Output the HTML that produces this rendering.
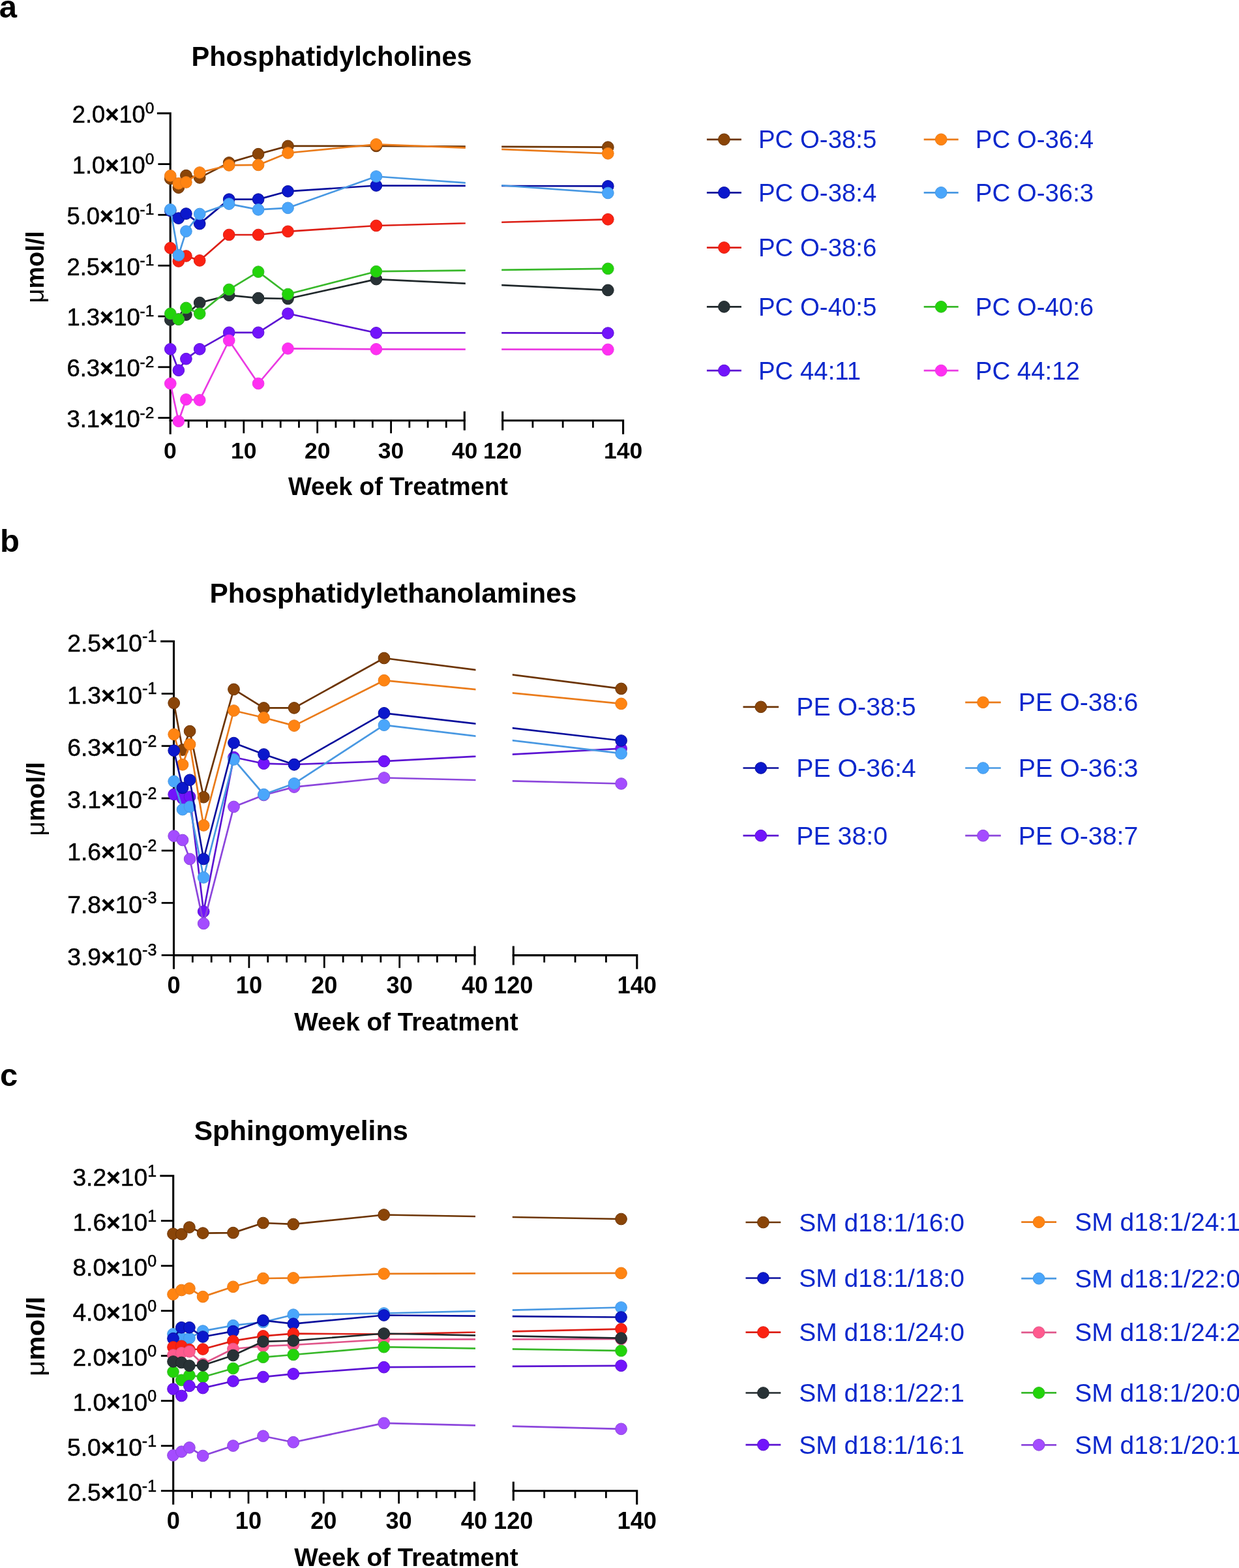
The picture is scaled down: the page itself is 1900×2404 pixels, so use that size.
<!DOCTYPE html>
<html><head><meta charset="utf-8"><title>Lipid species over weeks of treatment</title>
<style>
html,body{margin:0;padding:0;background:#fff;}
body{width:1900px;height:2404px;overflow:hidden;}
svg{display:block;}
text{font-family:'Liberation Sans', Arial, Helvetica, sans-serif;}
.let{font-size:49px;font-weight:bold;}
.ttl{font-size:42px;font-weight:bold;}
.yl{font-size:35.5px;text-anchor:end;stroke:#000;stroke-width:0.5px;}
.sup{font-size:26px;}
.xl{font-size:35px;font-weight:bold;text-anchor:middle;}
.xt{font-size:38px;font-weight:bold;}
.yt{font-size:38px;font-weight:bold;}
.mu{font-weight:normal;}
.lg{font-size:38px;fill:#0c28cc;}
.ax{stroke-width:3.1;stroke-linecap:square;}
.tk{stroke-width:2.8;stroke-linecap:butt;}
</style></head>
<body>
<svg width="1900" height="2404" viewBox="0 0 1900 2404">
<rect width="1900" height="2404" fill="#fff"/>
<text x="-1.3" y="26.6" class="let">a</text>
<text x="293.4" y="101.2" class="ttl" textLength="430.4" lengthAdjust="spacingAndGlyphs">Phosphatidylcholines</text>
<g stroke="#000" fill="none"><path d="M242.4 173.8H261.2V664.3" class="ax" fill="none"/><path d="M242.4 251.6H261.2" class="tk"/><path d="M242.4 329.4H261.2" class="tk"/><path d="M242.4 407.2H261.2" class="tk"/><path d="M242.4 485H261.2" class="tk"/><path d="M242.4 562.8H261.2" class="tk"/><path d="M242.4 640.6H261.2" class="tk"/><path d="M261.2 644.8H712.3" class="ax"/><path d="M712.3 632.2V658.2" class="ax"/><path d="M289.12 644.8V655.8" class="tk"/><path d="M317.35 644.8V655.8" class="tk"/><path d="M345.57 644.8V655.8" class="tk"/><path d="M373.8 644.8V664.3" class="tk"/><path d="M402.02 644.8V655.8" class="tk"/><path d="M430.25 644.8V655.8" class="tk"/><path d="M458.47 644.8V655.8" class="tk"/><path d="M486.7 644.8V664.3" class="tk"/><path d="M514.92 644.8V655.8" class="tk"/><path d="M543.15 644.8V655.8" class="tk"/><path d="M571.38 644.8V655.8" class="tk"/><path d="M599.6 644.8V664.3" class="tk"/><path d="M627.82 644.8V655.8" class="tk"/><path d="M656.05 644.8V655.8" class="tk"/><path d="M684.27 644.8V655.8" class="tk"/><path d="M770.7 632.2V658.2" class="ax"/><path d="M770.7 644.8H955.6V664.3" class="ax" fill="none"/><path d="M816.93 644.8V655.8" class="tk"/><path d="M863.15 644.8V655.8" class="tk"/><path d="M909.38 644.8V655.8" class="tk"/></g>
<text x="236.4" y="188.2" class="yl" style="font-size:36.3px">2.0<tspan font-weight="bold">×</tspan>10<tspan dy="-14.5" style="font-size:24.5px">0</tspan></text>
<text x="236.4" y="266" class="yl" style="font-size:36.3px">1.0<tspan font-weight="bold">×</tspan>10<tspan dy="-14.5" style="font-size:24.5px">0</tspan></text>
<text x="236.4" y="343.8" class="yl" style="font-size:36.3px">5.0<tspan font-weight="bold">×</tspan>10<tspan dy="-14.5" style="font-size:24.5px">-1</tspan></text>
<text x="236.4" y="421.6" class="yl" style="font-size:36.3px">2.5<tspan font-weight="bold">×</tspan>10<tspan dy="-14.5" style="font-size:24.5px">-1</tspan></text>
<text x="236.4" y="499.4" class="yl" style="font-size:36.3px">1.3<tspan font-weight="bold">×</tspan>10<tspan dy="-14.5" style="font-size:24.5px">-1</tspan></text>
<text x="236.4" y="577.2" class="yl" style="font-size:36.3px">6.3<tspan font-weight="bold">×</tspan>10<tspan dy="-14.5" style="font-size:24.5px">-2</tspan></text>
<text x="236.4" y="655" class="yl" style="font-size:36.3px">3.1<tspan font-weight="bold">×</tspan>10<tspan dy="-14.5" style="font-size:24.5px">-2</tspan></text>
<text x="260.9" y="702.8" class="xl" style="font-size:35.5px">0</text>
<text x="373.8" y="702.8" class="xl" style="font-size:35.5px">10</text>
<text x="486.7" y="702.8" class="xl" style="font-size:35.5px">20</text>
<text x="599.6" y="702.8" class="xl" style="font-size:35.5px">30</text>
<text x="712.5" y="702.8" class="xl" style="font-size:35.5px">40</text>
<text x="770.7" y="702.8" class="xl" style="font-size:35.5px">120</text>
<text x="955.6" y="702.8" class="xl" style="font-size:35.5px">140</text>
<text x="441.9" y="758.6" class="xt" textLength="336.9" lengthAdjust="spacingAndGlyphs">Week of Treatment</text>
<text transform="translate(67.3 409.3) rotate(-90)" class="yt" text-anchor="middle" textLength="110.2" lengthAdjust="spacingAndGlyphs"><tspan class="mu">μ</tspan>mol/l</text>
<clipPath id="clipa"><rect x="0" y="113.8" width="713.8" height="591"/><rect x="769.2" y="113.8" width="1129.3" height="591"/></clipPath>
<polyline points="261.3,273.9 273.8,287.6 285.4,269.1 306.2,272.4 351.2,249.4 396.1,236.2 441.5,223.9 576.9,223.9 932.3,225.7" fill="none" stroke="#6c3404" stroke-width="2.7" stroke-linejoin="round" clip-path="url(#clipa)"/>
<g fill="#8a4508" stroke="#6c3404" stroke-width="1"><circle cx="261.3" cy="273.9" r="8.85"/><circle cx="273.8" cy="287.6" r="8.85"/><circle cx="285.4" cy="269.1" r="8.85"/><circle cx="306.2" cy="272.4" r="8.85"/><circle cx="351.2" cy="249.4" r="8.85"/><circle cx="396.1" cy="236.2" r="8.85"/><circle cx="441.5" cy="223.9" r="8.85"/><circle cx="576.9" cy="223.9" r="8.85"/><circle cx="932.3" cy="225.7" r="8.85"/></g>
<polyline points="261.3,269.4 273.8,281.3 285.4,279.4 306.2,264.5 351.2,253.4 396.1,252.9 441.5,234.5 576.9,221.3 932.3,235.3" fill="none" stroke="#ea7b1a" stroke-width="2.7" stroke-linejoin="round" clip-path="url(#clipa)"/>
<g fill="#ff8412" stroke="#ea7b1a" stroke-width="1"><circle cx="261.3" cy="269.4" r="8.85"/><circle cx="273.8" cy="281.3" r="8.85"/><circle cx="285.4" cy="279.4" r="8.85"/><circle cx="306.2" cy="264.5" r="8.85"/><circle cx="351.2" cy="253.4" r="8.85"/><circle cx="396.1" cy="252.9" r="8.85"/><circle cx="441.5" cy="234.5" r="8.85"/><circle cx="576.9" cy="221.3" r="8.85"/><circle cx="932.3" cy="235.3" r="8.85"/></g>
<polyline points="261.3,323 273.8,334.6 285.4,327.6 306.2,343.1 351.2,305.6 396.1,305.6 441.5,293.3 576.9,284.5 932.3,285.4" fill="none" stroke="#0a0f9c" stroke-width="2.7" stroke-linejoin="round" clip-path="url(#clipa)"/>
<g fill="#0b18cc" stroke="#0a0f9c" stroke-width="1"><circle cx="261.3" cy="323" r="8.85"/><circle cx="273.8" cy="334.6" r="8.85"/><circle cx="285.4" cy="327.6" r="8.85"/><circle cx="306.2" cy="343.1" r="8.85"/><circle cx="351.2" cy="305.6" r="8.85"/><circle cx="396.1" cy="305.6" r="8.85"/><circle cx="441.5" cy="293.3" r="8.85"/><circle cx="576.9" cy="284.5" r="8.85"/><circle cx="932.3" cy="285.4" r="8.85"/></g>
<polyline points="261.3,380.2 273.8,400.5 285.4,392.5 306.2,399.4 351.2,360 396.1,360 441.5,354.8 576.9,346 932.3,336.3" fill="none" stroke="#dc1f16" stroke-width="2.7" stroke-linejoin="round" clip-path="url(#clipa)"/>
<g fill="#fb2212" stroke="#dc1f16" stroke-width="1"><circle cx="261.3" cy="380.2" r="8.85"/><circle cx="273.8" cy="400.5" r="8.85"/><circle cx="285.4" cy="392.5" r="8.85"/><circle cx="306.2" cy="399.4" r="8.85"/><circle cx="351.2" cy="360" r="8.85"/><circle cx="396.1" cy="360" r="8.85"/><circle cx="441.5" cy="354.8" r="8.85"/><circle cx="576.9" cy="346" r="8.85"/><circle cx="932.3" cy="336.3" r="8.85"/></g>
<polyline points="261.3,321.3 273.8,391.3 285.4,354.6 306.2,328 351.2,312.6 396.1,321.4 441.5,318.8 576.9,270.5 932.3,295.9" fill="none" stroke="#4898e2" stroke-width="2.7" stroke-linejoin="round" clip-path="url(#clipa)"/>
<g fill="#4aa6fb" stroke="#4898e2" stroke-width="1"><circle cx="261.3" cy="321.3" r="8.85"/><circle cx="273.8" cy="391.3" r="8.85"/><circle cx="285.4" cy="354.6" r="8.85"/><circle cx="306.2" cy="328" r="8.85"/><circle cx="351.2" cy="312.6" r="8.85"/><circle cx="396.1" cy="321.4" r="8.85"/><circle cx="441.5" cy="318.8" r="8.85"/><circle cx="576.9" cy="270.5" r="8.85"/><circle cx="932.3" cy="295.9" r="8.85"/></g>
<polyline points="261.3,490.5 273.8,489.5 285.4,482.6 306.2,464.1 351.2,452.7 396.1,457.1 441.5,458 576.9,428.1 932.3,444.9" fill="none" stroke="#20282b" stroke-width="2.7" stroke-linejoin="round" clip-path="url(#clipa)"/>
<g fill="#283236" stroke="#20282b" stroke-width="1"><circle cx="261.3" cy="490.5" r="8.85"/><circle cx="273.8" cy="489.5" r="8.85"/><circle cx="285.4" cy="482.6" r="8.85"/><circle cx="306.2" cy="464.1" r="8.85"/><circle cx="351.2" cy="452.7" r="8.85"/><circle cx="396.1" cy="457.1" r="8.85"/><circle cx="441.5" cy="458" r="8.85"/><circle cx="576.9" cy="428.1" r="8.85"/><circle cx="932.3" cy="444.9" r="8.85"/></g>
<polyline points="261.3,480.8 273.8,489.6 285.4,472 306.2,480.8 351.2,443.9 396.1,416.7 441.5,451 576.9,416.2 932.3,411.9" fill="none" stroke="#38b82a" stroke-width="2.7" stroke-linejoin="round" clip-path="url(#clipa)"/>
<g fill="#22d40a" stroke="#38b82a" stroke-width="1"><circle cx="261.3" cy="480.8" r="8.85"/><circle cx="273.8" cy="489.6" r="8.85"/><circle cx="285.4" cy="472" r="8.85"/><circle cx="306.2" cy="480.8" r="8.85"/><circle cx="351.2" cy="443.9" r="8.85"/><circle cx="396.1" cy="416.7" r="8.85"/><circle cx="441.5" cy="451" r="8.85"/><circle cx="576.9" cy="416.2" r="8.85"/><circle cx="932.3" cy="411.9" r="8.85"/></g>
<polyline points="261.3,535.3 273.8,567.7 285.4,550.2 306.2,535.3 351.2,509.8 396.1,509.8 441.5,480.8 576.9,510.3 932.3,510.6" fill="none" stroke="#5c14d2" stroke-width="2.7" stroke-linejoin="round" clip-path="url(#clipa)"/>
<g fill="#7214fb" stroke="#5c14d2" stroke-width="1"><circle cx="261.3" cy="535.3" r="8.85"/><circle cx="273.8" cy="567.7" r="8.85"/><circle cx="285.4" cy="550.2" r="8.85"/><circle cx="306.2" cy="535.3" r="8.85"/><circle cx="351.2" cy="509.8" r="8.85"/><circle cx="396.1" cy="509.8" r="8.85"/><circle cx="441.5" cy="480.8" r="8.85"/><circle cx="576.9" cy="510.3" r="8.85"/><circle cx="932.3" cy="510.6" r="8.85"/></g>
<polyline points="261.3,588 273.8,645.8 285.4,612.5 306.2,613.4 351.2,522 396.1,588 441.5,534.4 576.9,535.3 932.3,535.9" fill="none" stroke="#ea3ae2" stroke-width="2.7" stroke-linejoin="round" clip-path="url(#clipa)"/>
<g fill="#ff30f2" stroke="#ea3ae2" stroke-width="1"><circle cx="261.3" cy="588" r="8.85"/><circle cx="273.8" cy="645.8" r="8.85"/><circle cx="285.4" cy="612.5" r="8.85"/><circle cx="306.2" cy="613.4" r="8.85"/><circle cx="351.2" cy="522" r="8.85"/><circle cx="396.1" cy="588" r="8.85"/><circle cx="441.5" cy="534.4" r="8.85"/><circle cx="576.9" cy="535.3" r="8.85"/><circle cx="932.3" cy="535.9" r="8.85"/></g>
<path d="M1083.9 213.8H1136.9" stroke="#6c3404" stroke-width="2.7"/>
<circle cx="1110.4" cy="213.8" r="8.85" fill="#8a4508" stroke="#6c3404" stroke-width="1"/>
<text x="1163" y="227.4" class="lg" style="font-size:38.4px">PC O-38:5</text>
<path d="M1416.7 213.8H1469.7" stroke="#ea7b1a" stroke-width="2.7"/>
<circle cx="1443.2" cy="213.8" r="8.85" fill="#ff8412" stroke="#ea7b1a" stroke-width="1"/>
<text x="1495.8" y="227.4" class="lg" style="font-size:38.4px">PC O-36:4</text>
<path d="M1083.9 295.3H1136.9" stroke="#0a0f9c" stroke-width="2.7"/>
<circle cx="1110.4" cy="295.3" r="8.85" fill="#0b18cc" stroke="#0a0f9c" stroke-width="1"/>
<text x="1163" y="308.9" class="lg" style="font-size:38.4px">PC O-38:4</text>
<path d="M1416.7 295.3H1469.7" stroke="#4898e2" stroke-width="2.7"/>
<circle cx="1443.2" cy="295.3" r="8.85" fill="#4aa6fb" stroke="#4898e2" stroke-width="1"/>
<text x="1495.8" y="308.9" class="lg" style="font-size:38.4px">PC O-36:3</text>
<path d="M1083.9 379.6H1136.9" stroke="#dc1f16" stroke-width="2.7"/>
<circle cx="1110.4" cy="379.6" r="8.85" fill="#fb2212" stroke="#dc1f16" stroke-width="1"/>
<text x="1163" y="393.2" class="lg" style="font-size:38.4px">PC O-38:6</text>
<path d="M1083.9 470.3H1136.9" stroke="#20282b" stroke-width="2.7"/>
<circle cx="1110.4" cy="470.3" r="8.85" fill="#283236" stroke="#20282b" stroke-width="1"/>
<text x="1163" y="483.9" class="lg" style="font-size:38.4px">PC O-40:5</text>
<path d="M1416.7 470.3H1469.7" stroke="#38b82a" stroke-width="2.7"/>
<circle cx="1443.2" cy="470.3" r="8.85" fill="#22d40a" stroke="#38b82a" stroke-width="1"/>
<text x="1495.8" y="483.9" class="lg" style="font-size:38.4px">PC O-40:6</text>
<path d="M1083.9 568.1H1136.9" stroke="#5c14d2" stroke-width="2.7"/>
<circle cx="1110.4" cy="568.1" r="8.85" fill="#7214fb" stroke="#5c14d2" stroke-width="1"/>
<text x="1163" y="581.7" class="lg" style="font-size:38.4px">PC 44:11</text>
<path d="M1416.7 568.1H1469.7" stroke="#ea3ae2" stroke-width="2.7"/>
<circle cx="1443.2" cy="568.1" r="8.85" fill="#ff30f2" stroke="#ea3ae2" stroke-width="1"/>
<text x="1495.8" y="581.7" class="lg" style="font-size:38.4px">PC 44:12</text>
<text x="0" y="845.5" class="let">b</text>
<text x="321.4" y="924.1" class="ttl" textLength="563" lengthAdjust="spacingAndGlyphs">Phosphatidylethanolamines</text>
<g stroke="#000" fill="none"><path d="M247.7 983.3H266.5V1484.1" class="ax" fill="none"/><path d="M247.7 1063.5H266.5" class="tk"/><path d="M247.7 1143.7H266.5" class="tk"/><path d="M247.7 1223.9H266.5" class="tk"/><path d="M247.7 1304.1H266.5" class="tk"/><path d="M247.7 1384.3H266.5" class="tk"/><path d="M247.7 1464.5H266.5" class="tk"/><path d="M266.5 1464.6H728" class="ax"/><path d="M728 1452V1478" class="ax"/><path d="M295.35 1464.6V1475.6" class="tk"/><path d="M324.2 1464.6V1475.6" class="tk"/><path d="M353.05 1464.6V1475.6" class="tk"/><path d="M381.9 1464.6V1484.1" class="tk"/><path d="M410.75 1464.6V1475.6" class="tk"/><path d="M439.6 1464.6V1475.6" class="tk"/><path d="M468.45 1464.6V1475.6" class="tk"/><path d="M497.3 1464.6V1484.1" class="tk"/><path d="M526.15 1464.6V1475.6" class="tk"/><path d="M555 1464.6V1475.6" class="tk"/><path d="M583.85 1464.6V1475.6" class="tk"/><path d="M612.7 1464.6V1484.1" class="tk"/><path d="M641.55 1464.6V1475.6" class="tk"/><path d="M670.4 1464.6V1475.6" class="tk"/><path d="M699.25 1464.6V1475.6" class="tk"/><path d="M787.3 1452V1478" class="ax"/><path d="M787.3 1464.6H976.8V1484.1" class="ax" fill="none"/><path d="M834.67 1464.6V1475.6" class="tk"/><path d="M882.05 1464.6V1475.6" class="tk"/><path d="M929.42 1464.6V1475.6" class="tk"/></g>
<text x="240.3" y="998.6" class="yl" style="font-size:37.2px">2.5<tspan font-weight="bold">×</tspan>10<tspan dy="-14.5" style="font-size:25px">-1</tspan></text>
<text x="240.3" y="1078.8" class="yl" style="font-size:37.2px">1.3<tspan font-weight="bold">×</tspan>10<tspan dy="-14.5" style="font-size:25px">-1</tspan></text>
<text x="240.3" y="1159" class="yl" style="font-size:37.2px">6.3<tspan font-weight="bold">×</tspan>10<tspan dy="-14.5" style="font-size:25px">-2</tspan></text>
<text x="240.3" y="1239.2" class="yl" style="font-size:37.2px">3.1<tspan font-weight="bold">×</tspan>10<tspan dy="-14.5" style="font-size:25px">-2</tspan></text>
<text x="240.3" y="1319.4" class="yl" style="font-size:37.2px">1.6<tspan font-weight="bold">×</tspan>10<tspan dy="-14.5" style="font-size:25px">-2</tspan></text>
<text x="240.3" y="1399.6" class="yl" style="font-size:37.2px">7.8<tspan font-weight="bold">×</tspan>10<tspan dy="-14.5" style="font-size:25px">-3</tspan></text>
<text x="240.3" y="1479.8" class="yl" style="font-size:37.2px">3.9<tspan font-weight="bold">×</tspan>10<tspan dy="-14.5" style="font-size:25px">-3</tspan></text>
<text x="266.5" y="1523.2" class="xl" style="font-size:36.2px">0</text>
<text x="381.9" y="1523.2" class="xl" style="font-size:36.2px">10</text>
<text x="497.3" y="1523.2" class="xl" style="font-size:36.2px">20</text>
<text x="612.7" y="1523.2" class="xl" style="font-size:36.2px">30</text>
<text x="728.1" y="1523.2" class="xl" style="font-size:36.2px">40</text>
<text x="787.3" y="1523.2" class="xl" style="font-size:36.2px">120</text>
<text x="976.8" y="1523.2" class="xl" style="font-size:36.2px">140</text>
<text x="451.3" y="1579.6" class="xt" textLength="343.3" lengthAdjust="spacingAndGlyphs">Week of Treatment</text>
<text transform="translate(67.8 1224.9) rotate(-90)" class="yt" text-anchor="middle" textLength="113.6" lengthAdjust="spacingAndGlyphs"><tspan class="mu">μ</tspan>mol/l</text>
<clipPath id="clipb"><rect x="0" y="923.3" width="729.5" height="601.3"/><rect x="785.8" y="923.3" width="1112.7" height="601.3"/></clipPath>
<polyline points="266.7,1077.9 280,1149.6 291.1,1121.1 312.2,1222.2 358.5,1056.9 404.5,1085.4 451.1,1085.4 589,1009 952.6,1055.9" fill="none" stroke="#6c3404" stroke-width="2.7" stroke-linejoin="round" clip-path="url(#clipb)"/>
<g fill="#8a4508" stroke="#6c3404" stroke-width="1"><circle cx="266.7" cy="1077.9" r="8.85"/><circle cx="280" cy="1149.6" r="8.85"/><circle cx="291.1" cy="1121.1" r="8.85"/><circle cx="312.2" cy="1222.2" r="8.85"/><circle cx="358.5" cy="1056.9" r="8.85"/><circle cx="404.5" cy="1085.4" r="8.85"/><circle cx="451.1" cy="1085.4" r="8.85"/><circle cx="589" cy="1009" r="8.85"/><circle cx="952.6" cy="1055.9" r="8.85"/></g>
<polyline points="266.7,1125.9 280,1172.3 291.1,1141.2 312.2,1265.4 358.5,1089.5 404.5,1100.3 451.1,1112.6 589,1043.2 952.6,1078.9" fill="none" stroke="#ea7b1a" stroke-width="2.7" stroke-linejoin="round" clip-path="url(#clipb)"/>
<g fill="#ff8412" stroke="#ea7b1a" stroke-width="1"><circle cx="266.7" cy="1125.9" r="8.85"/><circle cx="280" cy="1172.3" r="8.85"/><circle cx="291.1" cy="1141.2" r="8.85"/><circle cx="312.2" cy="1265.4" r="8.85"/><circle cx="358.5" cy="1089.5" r="8.85"/><circle cx="404.5" cy="1100.3" r="8.85"/><circle cx="451.1" cy="1112.6" r="8.85"/><circle cx="589" cy="1043.2" r="8.85"/><circle cx="952.6" cy="1078.9" r="8.85"/></g>
<polyline points="266.7,1217.9 280,1224.3 291.1,1221.6 312.2,1397.5 358.5,1161 404.5,1170.7 451.1,1172 589,1167.1 952.6,1147.7" fill="none" stroke="#5c14d2" stroke-width="2.7" stroke-linejoin="round" clip-path="url(#clipb)"/>
<g fill="#7214fb" stroke="#5c14d2" stroke-width="1"><circle cx="266.7" cy="1217.9" r="8.85"/><circle cx="280" cy="1224.3" r="8.85"/><circle cx="291.1" cy="1221.6" r="8.85"/><circle cx="312.2" cy="1397.5" r="8.85"/><circle cx="358.5" cy="1161" r="8.85"/><circle cx="404.5" cy="1170.7" r="8.85"/><circle cx="451.1" cy="1172" r="8.85"/><circle cx="589" cy="1167.1" r="8.85"/><circle cx="952.6" cy="1147.7" r="8.85"/></g>
<polyline points="266.7,1281.7 280,1288 291.1,1317 312.2,1415.9 358.5,1236.9 404.5,1219 451.1,1206.6 589,1192.5 952.6,1201.5" fill="none" stroke="#8c46dc" stroke-width="2.7" stroke-linejoin="round" clip-path="url(#clipb)"/>
<g fill="#a44cff" stroke="#8c46dc" stroke-width="1"><circle cx="266.7" cy="1281.7" r="8.85"/><circle cx="280" cy="1288" r="8.85"/><circle cx="291.1" cy="1317" r="8.85"/><circle cx="312.2" cy="1415.9" r="8.85"/><circle cx="358.5" cy="1236.9" r="8.85"/><circle cx="404.5" cy="1219" r="8.85"/><circle cx="451.1" cy="1206.6" r="8.85"/><circle cx="589" cy="1192.5" r="8.85"/><circle cx="952.6" cy="1201.5" r="8.85"/></g>
<polyline points="266.7,1197.9 280,1241.1 291.1,1236.9 312.2,1345.3 358.5,1164.4 404.5,1218 451.1,1201.3 589,1111.7 952.6,1155.2" fill="none" stroke="#4898e2" stroke-width="2.7" stroke-linejoin="round" clip-path="url(#clipb)"/>
<g fill="#4aa6fb" stroke="#4898e2" stroke-width="1"><circle cx="266.7" cy="1197.9" r="8.85"/><circle cx="280" cy="1241.1" r="8.85"/><circle cx="291.1" cy="1236.9" r="8.85"/><circle cx="312.2" cy="1345.3" r="8.85"/><circle cx="358.5" cy="1164.4" r="8.85"/><circle cx="404.5" cy="1218" r="8.85"/><circle cx="451.1" cy="1201.3" r="8.85"/><circle cx="589" cy="1111.7" r="8.85"/><circle cx="952.6" cy="1155.2" r="8.85"/></g>
<polyline points="266.7,1150.7 280,1207.9 291.1,1195.8 312.2,1317 358.5,1139.1 404.5,1156.5 451.1,1172.3 589,1093.3 952.6,1135.5" fill="none" stroke="#0a0f9c" stroke-width="2.7" stroke-linejoin="round" clip-path="url(#clipb)"/>
<g fill="#0b18cc" stroke="#0a0f9c" stroke-width="1"><circle cx="266.7" cy="1150.7" r="8.85"/><circle cx="280" cy="1207.9" r="8.85"/><circle cx="291.1" cy="1195.8" r="8.85"/><circle cx="312.2" cy="1317" r="8.85"/><circle cx="358.5" cy="1139.1" r="8.85"/><circle cx="404.5" cy="1156.5" r="8.85"/><circle cx="451.1" cy="1172.3" r="8.85"/><circle cx="589" cy="1093.3" r="8.85"/><circle cx="952.6" cy="1135.5" r="8.85"/></g>
<path d="M1139.5 1083.8H1194.1" stroke="#6c3404" stroke-width="2.7"/>
<circle cx="1166.8" cy="1083.8" r="8.85" fill="#8a4508" stroke="#6c3404" stroke-width="1"/>
<text x="1221.2" y="1097.4" class="lg" style="font-size:39.3px">PE O-38:5</text>
<path d="M1480.2 1076.8H1534.8" stroke="#ea7b1a" stroke-width="2.7"/>
<circle cx="1507.5" cy="1076.8" r="8.85" fill="#ff8412" stroke="#ea7b1a" stroke-width="1"/>
<text x="1561.8" y="1090.4" class="lg" style="font-size:39.3px">PE O-38:6</text>
<path d="M1139.5 1177.5H1194.1" stroke="#0a0f9c" stroke-width="2.7"/>
<circle cx="1166.8" cy="1177.5" r="8.85" fill="#0b18cc" stroke="#0a0f9c" stroke-width="1"/>
<text x="1221.2" y="1191.1" class="lg" style="font-size:39.3px">PE O-36:4</text>
<path d="M1480.2 1177.5H1534.8" stroke="#4898e2" stroke-width="2.7"/>
<circle cx="1507.5" cy="1177.5" r="8.85" fill="#4aa6fb" stroke="#4898e2" stroke-width="1"/>
<text x="1561.8" y="1191.1" class="lg" style="font-size:39.3px">PE O-36:3</text>
<path d="M1139.5 1281.2H1194.1" stroke="#5c14d2" stroke-width="2.7"/>
<circle cx="1166.8" cy="1281.2" r="8.85" fill="#7214fb" stroke="#5c14d2" stroke-width="1"/>
<text x="1221.2" y="1294.8" class="lg" style="font-size:39.3px">PE 38:0</text>
<path d="M1480.2 1281.2H1534.8" stroke="#8c46dc" stroke-width="2.7"/>
<circle cx="1507.5" cy="1281.2" r="8.85" fill="#a44cff" stroke="#8c46dc" stroke-width="1"/>
<text x="1561.8" y="1294.8" class="lg" style="font-size:39.3px">PE O-38:7</text>
<text x="0" y="1664.8" class="let">c</text>
<text x="297.7" y="1747.8" class="ttl" textLength="328.3" lengthAdjust="spacingAndGlyphs">Sphingomyelins</text>
<g stroke="#000" fill="none"><path d="M246.9 1802.7H265.7V2305.3" class="ax" fill="none"/><path d="M246.9 1871.7H265.7" class="tk"/><path d="M246.9 1940.7H265.7" class="tk"/><path d="M246.9 2009.7H265.7" class="tk"/><path d="M246.9 2078.7H265.7" class="tk"/><path d="M246.9 2147.7H265.7" class="tk"/><path d="M246.9 2216.7H265.7" class="tk"/><path d="M246.9 2285.7H265.7" class="tk"/><path d="M265.7 2285.8H727.5" class="ax"/><path d="M727.5 2273.2V2299.2" class="ax"/><path d="M294.52 2285.8V2296.8" class="tk"/><path d="M323.35 2285.8V2296.8" class="tk"/><path d="M352.17 2285.8V2296.8" class="tk"/><path d="M381 2285.8V2305.3" class="tk"/><path d="M409.82 2285.8V2296.8" class="tk"/><path d="M438.65 2285.8V2296.8" class="tk"/><path d="M467.47 2285.8V2296.8" class="tk"/><path d="M496.3 2285.8V2305.3" class="tk"/><path d="M525.12 2285.8V2296.8" class="tk"/><path d="M553.95 2285.8V2296.8" class="tk"/><path d="M582.77 2285.8V2296.8" class="tk"/><path d="M611.6 2285.8V2305.3" class="tk"/><path d="M640.42 2285.8V2296.8" class="tk"/><path d="M669.25 2285.8V2296.8" class="tk"/><path d="M698.08 2285.8V2296.8" class="tk"/><path d="M787.3 2273.2V2299.2" class="ax"/><path d="M787.3 2285.8H976.7V2305.3" class="ax" fill="none"/><path d="M834.65 2285.8V2296.8" class="tk"/><path d="M882 2285.8V2296.8" class="tk"/><path d="M929.35 2285.8V2296.8" class="tk"/></g>
<text x="240.1" y="1818" class="yl" style="font-size:37.2px">3.2<tspan font-weight="bold">×</tspan>10<tspan dy="-14.5" style="font-size:25px">1</tspan></text>
<text x="240.1" y="1887" class="yl" style="font-size:37.2px">1.6<tspan font-weight="bold">×</tspan>10<tspan dy="-14.5" style="font-size:25px">1</tspan></text>
<text x="240.1" y="1956" class="yl" style="font-size:37.2px">8.0<tspan font-weight="bold">×</tspan>10<tspan dy="-14.5" style="font-size:25px">0</tspan></text>
<text x="240.1" y="2025" class="yl" style="font-size:37.2px">4.0<tspan font-weight="bold">×</tspan>10<tspan dy="-14.5" style="font-size:25px">0</tspan></text>
<text x="240.1" y="2094" class="yl" style="font-size:37.2px">2.0<tspan font-weight="bold">×</tspan>10<tspan dy="-14.5" style="font-size:25px">0</tspan></text>
<text x="240.1" y="2163" class="yl" style="font-size:37.2px">1.0<tspan font-weight="bold">×</tspan>10<tspan dy="-14.5" style="font-size:25px">0</tspan></text>
<text x="240.1" y="2232" class="yl" style="font-size:37.2px">5.0<tspan font-weight="bold">×</tspan>10<tspan dy="-14.5" style="font-size:25px">-1</tspan></text>
<text x="240.1" y="2301" class="yl" style="font-size:37.2px">2.5<tspan font-weight="bold">×</tspan>10<tspan dy="-14.5" style="font-size:25px">-1</tspan></text>
<text x="265.7" y="2344.4" class="xl" style="font-size:36.2px">0</text>
<text x="381" y="2344.4" class="xl" style="font-size:36.2px">10</text>
<text x="496.3" y="2344.4" class="xl" style="font-size:36.2px">20</text>
<text x="611.6" y="2344.4" class="xl" style="font-size:36.2px">30</text>
<text x="726.9" y="2344.4" class="xl" style="font-size:36.2px">40</text>
<text x="787.3" y="2344.4" class="xl" style="font-size:36.2px">120</text>
<text x="976.7" y="2344.4" class="xl" style="font-size:36.2px">140</text>
<text x="451.3" y="2400.6" class="xt" textLength="343.3" lengthAdjust="spacingAndGlyphs">Week of Treatment</text>
<text transform="translate(67.8 2048.9) rotate(-90)" class="yt" text-anchor="middle" textLength="122.4" lengthAdjust="spacingAndGlyphs"><tspan class="mu">μ</tspan>mol/l</text>
<clipPath id="clipc"><rect x="0" y="1742.7" width="729" height="603.1"/><rect x="785.8" y="1742.7" width="1112.7" height="603.1"/></clipPath>
<polyline points="265.5,1891.6 278.3,1892.2 290.4,1881.6 311.1,1890.6 357.5,1890.1 403.5,1875 449.8,1876.9 588.7,1862.5 952.5,1869" fill="none" stroke="#6c3404" stroke-width="2.7" stroke-linejoin="round" clip-path="url(#clipc)"/>
<g fill="#8a4508" stroke="#6c3404" stroke-width="1"><circle cx="265.5" cy="1891.6" r="8.85"/><circle cx="278.3" cy="1892.2" r="8.85"/><circle cx="290.4" cy="1881.6" r="8.85"/><circle cx="311.1" cy="1890.6" r="8.85"/><circle cx="357.5" cy="1890.1" r="8.85"/><circle cx="403.5" cy="1875" r="8.85"/><circle cx="449.8" cy="1876.9" r="8.85"/><circle cx="588.7" cy="1862.5" r="8.85"/><circle cx="952.5" cy="1869" r="8.85"/></g>
<polyline points="265.5,1984.4 278.3,1978 290.4,1975.4 311.1,1988.1 357.5,1972.8 403.5,1960 449.8,1959.4 588.7,1952.8 952.5,1951.9" fill="none" stroke="#ea7b1a" stroke-width="2.7" stroke-linejoin="round" clip-path="url(#clipc)"/>
<g fill="#ff8412" stroke="#ea7b1a" stroke-width="1"><circle cx="265.5" cy="1984.4" r="8.85"/><circle cx="278.3" cy="1978" r="8.85"/><circle cx="290.4" cy="1975.4" r="8.85"/><circle cx="311.1" cy="1988.1" r="8.85"/><circle cx="357.5" cy="1972.8" r="8.85"/><circle cx="403.5" cy="1960" r="8.85"/><circle cx="449.8" cy="1959.4" r="8.85"/><circle cx="588.7" cy="1952.8" r="8.85"/><circle cx="952.5" cy="1951.9" r="8.85"/></g>
<polyline points="265.5,2045.3 278.3,2051.6 290.4,2051.6 311.1,2040.6 357.5,2032.2 403.5,2027 449.8,2015.7 588.7,2013.5 952.5,2004.5" fill="none" stroke="#4898e2" stroke-width="2.7" stroke-linejoin="round" clip-path="url(#clipc)"/>
<g fill="#4aa6fb" stroke="#4898e2" stroke-width="1"><circle cx="265.5" cy="2045.3" r="8.85"/><circle cx="278.3" cy="2051.6" r="8.85"/><circle cx="290.4" cy="2051.6" r="8.85"/><circle cx="311.1" cy="2040.6" r="8.85"/><circle cx="357.5" cy="2032.2" r="8.85"/><circle cx="403.5" cy="2027" r="8.85"/><circle cx="449.8" cy="2015.7" r="8.85"/><circle cx="588.7" cy="2013.5" r="8.85"/><circle cx="952.5" cy="2004.5" r="8.85"/></g>
<polyline points="265.5,2052.2 278.3,2035.3 290.4,2035.3 311.1,2049.5 357.5,2041.1 403.5,2024.4 449.8,2029.7 588.7,2016.5 952.5,2019.5" fill="none" stroke="#0a0f9c" stroke-width="2.7" stroke-linejoin="round" clip-path="url(#clipc)"/>
<g fill="#0b18cc" stroke="#0a0f9c" stroke-width="1"><circle cx="265.5" cy="2052.2" r="8.85"/><circle cx="278.3" cy="2035.3" r="8.85"/><circle cx="290.4" cy="2035.3" r="8.85"/><circle cx="311.1" cy="2049.5" r="8.85"/><circle cx="357.5" cy="2041.1" r="8.85"/><circle cx="403.5" cy="2024.4" r="8.85"/><circle cx="449.8" cy="2029.7" r="8.85"/><circle cx="588.7" cy="2016.5" r="8.85"/><circle cx="952.5" cy="2019.5" r="8.85"/></g>
<polyline points="265.5,2065.4 278.3,2063.8 290.4,2069 311.1,2068.5 357.5,2055.9 403.5,2048.3 449.8,2044.6 588.7,2045.5 952.5,2037.7" fill="none" stroke="#dc1f16" stroke-width="2.7" stroke-linejoin="round" clip-path="url(#clipc)"/>
<g fill="#fb2212" stroke="#dc1f16" stroke-width="1"><circle cx="265.5" cy="2065.4" r="8.85"/><circle cx="278.3" cy="2063.8" r="8.85"/><circle cx="290.4" cy="2069" r="8.85"/><circle cx="311.1" cy="2068.5" r="8.85"/><circle cx="357.5" cy="2055.9" r="8.85"/><circle cx="403.5" cy="2048.3" r="8.85"/><circle cx="449.8" cy="2044.6" r="8.85"/><circle cx="588.7" cy="2045.5" r="8.85"/><circle cx="952.5" cy="2037.7" r="8.85"/></g>
<polyline points="265.5,2077.5 278.3,2074.3 290.4,2072.2 311.1,2091 357.5,2068 403.5,2063.8 449.8,2062 588.7,2053.7 952.5,2053" fill="none" stroke="#e0568a" stroke-width="2.7" stroke-linejoin="round" clip-path="url(#clipc)"/>
<g fill="#ff5a8e" stroke="#e0568a" stroke-width="1"><circle cx="265.5" cy="2077.5" r="8.85"/><circle cx="278.3" cy="2074.3" r="8.85"/><circle cx="290.4" cy="2072.2" r="8.85"/><circle cx="311.1" cy="2091" r="8.85"/><circle cx="357.5" cy="2068" r="8.85"/><circle cx="403.5" cy="2063.8" r="8.85"/><circle cx="449.8" cy="2062" r="8.85"/><circle cx="588.7" cy="2053.7" r="8.85"/><circle cx="952.5" cy="2053" r="8.85"/></g>
<polyline points="265.5,2103.3 278.3,2115.9 290.4,2108.6 311.1,2111.2 357.5,2098 403.5,2080.8 449.8,2077 588.7,2065.2 952.5,2070.9" fill="none" stroke="#38b82a" stroke-width="2.7" stroke-linejoin="round" clip-path="url(#clipc)"/>
<g fill="#22d40a" stroke="#38b82a" stroke-width="1"><circle cx="265.5" cy="2103.3" r="8.85"/><circle cx="278.3" cy="2115.9" r="8.85"/><circle cx="290.4" cy="2108.6" r="8.85"/><circle cx="311.1" cy="2111.2" r="8.85"/><circle cx="357.5" cy="2098" r="8.85"/><circle cx="403.5" cy="2080.8" r="8.85"/><circle cx="449.8" cy="2077" r="8.85"/><circle cx="588.7" cy="2065.2" r="8.85"/><circle cx="952.5" cy="2070.9" r="8.85"/></g>
<polyline points="265.5,2087.5 278.3,2089 290.4,2093.8 311.1,2093.3 357.5,2078 403.5,2056.8 449.8,2055.5 588.7,2044.5 952.5,2051.7" fill="none" stroke="#20282b" stroke-width="2.7" stroke-linejoin="round" clip-path="url(#clipc)"/>
<g fill="#283236" stroke="#20282b" stroke-width="1"><circle cx="265.5" cy="2087.5" r="8.85"/><circle cx="278.3" cy="2089" r="8.85"/><circle cx="290.4" cy="2093.8" r="8.85"/><circle cx="311.1" cy="2093.3" r="8.85"/><circle cx="357.5" cy="2078" r="8.85"/><circle cx="403.5" cy="2056.8" r="8.85"/><circle cx="449.8" cy="2055.5" r="8.85"/><circle cx="588.7" cy="2044.5" r="8.85"/><circle cx="952.5" cy="2051.7" r="8.85"/></g>
<polyline points="265.5,2129.6 278.3,2140 290.4,2124.9 311.1,2128.1 357.5,2117.5 403.5,2111.1 449.8,2106.4 588.7,2096.2 952.5,2093.8" fill="none" stroke="#5c14d2" stroke-width="2.7" stroke-linejoin="round" clip-path="url(#clipc)"/>
<g fill="#7214fb" stroke="#5c14d2" stroke-width="1"><circle cx="265.5" cy="2129.6" r="8.85"/><circle cx="278.3" cy="2140" r="8.85"/><circle cx="290.4" cy="2124.9" r="8.85"/><circle cx="311.1" cy="2128.1" r="8.85"/><circle cx="357.5" cy="2117.5" r="8.85"/><circle cx="403.5" cy="2111.1" r="8.85"/><circle cx="449.8" cy="2106.4" r="8.85"/><circle cx="588.7" cy="2096.2" r="8.85"/><circle cx="952.5" cy="2093.8" r="8.85"/></g>
<polyline points="265.5,2231.3 278.3,2225.7 290.4,2219.4 311.1,2232 357.5,2216.6 403.5,2201.7 449.8,2211.2 588.7,2181.9 952.5,2190.8" fill="none" stroke="#8c46dc" stroke-width="2.7" stroke-linejoin="round" clip-path="url(#clipc)"/>
<g fill="#a44cff" stroke="#8c46dc" stroke-width="1"><circle cx="265.5" cy="2231.3" r="8.85"/><circle cx="278.3" cy="2225.7" r="8.85"/><circle cx="290.4" cy="2219.4" r="8.85"/><circle cx="311.1" cy="2232" r="8.85"/><circle cx="357.5" cy="2216.6" r="8.85"/><circle cx="403.5" cy="2201.7" r="8.85"/><circle cx="449.8" cy="2211.2" r="8.85"/><circle cx="588.7" cy="2181.9" r="8.85"/><circle cx="952.5" cy="2190.8" r="8.85"/></g>
<path d="M1143.5 1874H1197.3" stroke="#6c3404" stroke-width="2.7"/>
<circle cx="1170.4" cy="1874" r="8.85" fill="#8a4508" stroke="#6c3404" stroke-width="1"/>
<text x="1225.2" y="1887.6" class="lg" style="font-size:39.0px">SM d18:1/16:0</text>
<path d="M1566.2 1873.7H1620" stroke="#ea7b1a" stroke-width="2.7"/>
<circle cx="1593.1" cy="1873.7" r="8.85" fill="#ff8412" stroke="#ea7b1a" stroke-width="1"/>
<text x="1648.2" y="1887.3" class="lg" style="font-size:39.0px">SM d18:1/24:1</text>
<path d="M1143.5 1959.5H1197.3" stroke="#0a0f9c" stroke-width="2.7"/>
<circle cx="1170.4" cy="1959.5" r="8.85" fill="#0b18cc" stroke="#0a0f9c" stroke-width="1"/>
<text x="1225.2" y="1973.1" class="lg" style="font-size:39.0px">SM d18:1/18:0</text>
<path d="M1566.2 1960.2H1620" stroke="#4898e2" stroke-width="2.7"/>
<circle cx="1593.1" cy="1960.2" r="8.85" fill="#4aa6fb" stroke="#4898e2" stroke-width="1"/>
<text x="1648.2" y="1973.8" class="lg" style="font-size:39.0px">SM d18:1/22:0</text>
<path d="M1143.5 2042.6H1197.3" stroke="#dc1f16" stroke-width="2.7"/>
<circle cx="1170.4" cy="2042.6" r="8.85" fill="#fb2212" stroke="#dc1f16" stroke-width="1"/>
<text x="1225.2" y="2056.2" class="lg" style="font-size:39.0px">SM d18:1/24:0</text>
<path d="M1566.2 2042.8H1620" stroke="#e0568a" stroke-width="2.7"/>
<circle cx="1593.1" cy="2042.8" r="8.85" fill="#ff5a8e" stroke="#e0568a" stroke-width="1"/>
<text x="1648.2" y="2056.4" class="lg" style="font-size:39.0px">SM d18:1/24:2</text>
<path d="M1143.5 2135.5H1197.3" stroke="#20282b" stroke-width="2.7"/>
<circle cx="1170.4" cy="2135.5" r="8.85" fill="#283236" stroke="#20282b" stroke-width="1"/>
<text x="1225.2" y="2149.1" class="lg" style="font-size:39.0px">SM d18:1/22:1</text>
<path d="M1566.2 2135.4H1620" stroke="#38b82a" stroke-width="2.7"/>
<circle cx="1593.1" cy="2135.4" r="8.85" fill="#22d40a" stroke="#38b82a" stroke-width="1"/>
<text x="1648.2" y="2149" class="lg" style="font-size:39.0px">SM d18:1/20:0</text>
<path d="M1143.5 2215.1H1197.3" stroke="#5c14d2" stroke-width="2.7"/>
<circle cx="1170.4" cy="2215.1" r="8.85" fill="#7214fb" stroke="#5c14d2" stroke-width="1"/>
<text x="1225.2" y="2228.7" class="lg" style="font-size:39.0px">SM d18:1/16:1</text>
<path d="M1566.2 2215.3H1620" stroke="#8c46dc" stroke-width="2.7"/>
<circle cx="1593.1" cy="2215.3" r="8.85" fill="#a44cff" stroke="#8c46dc" stroke-width="1"/>
<text x="1648.2" y="2228.9" class="lg" style="font-size:39.0px">SM d18:1/20:1</text>
</svg>
</body></html>
